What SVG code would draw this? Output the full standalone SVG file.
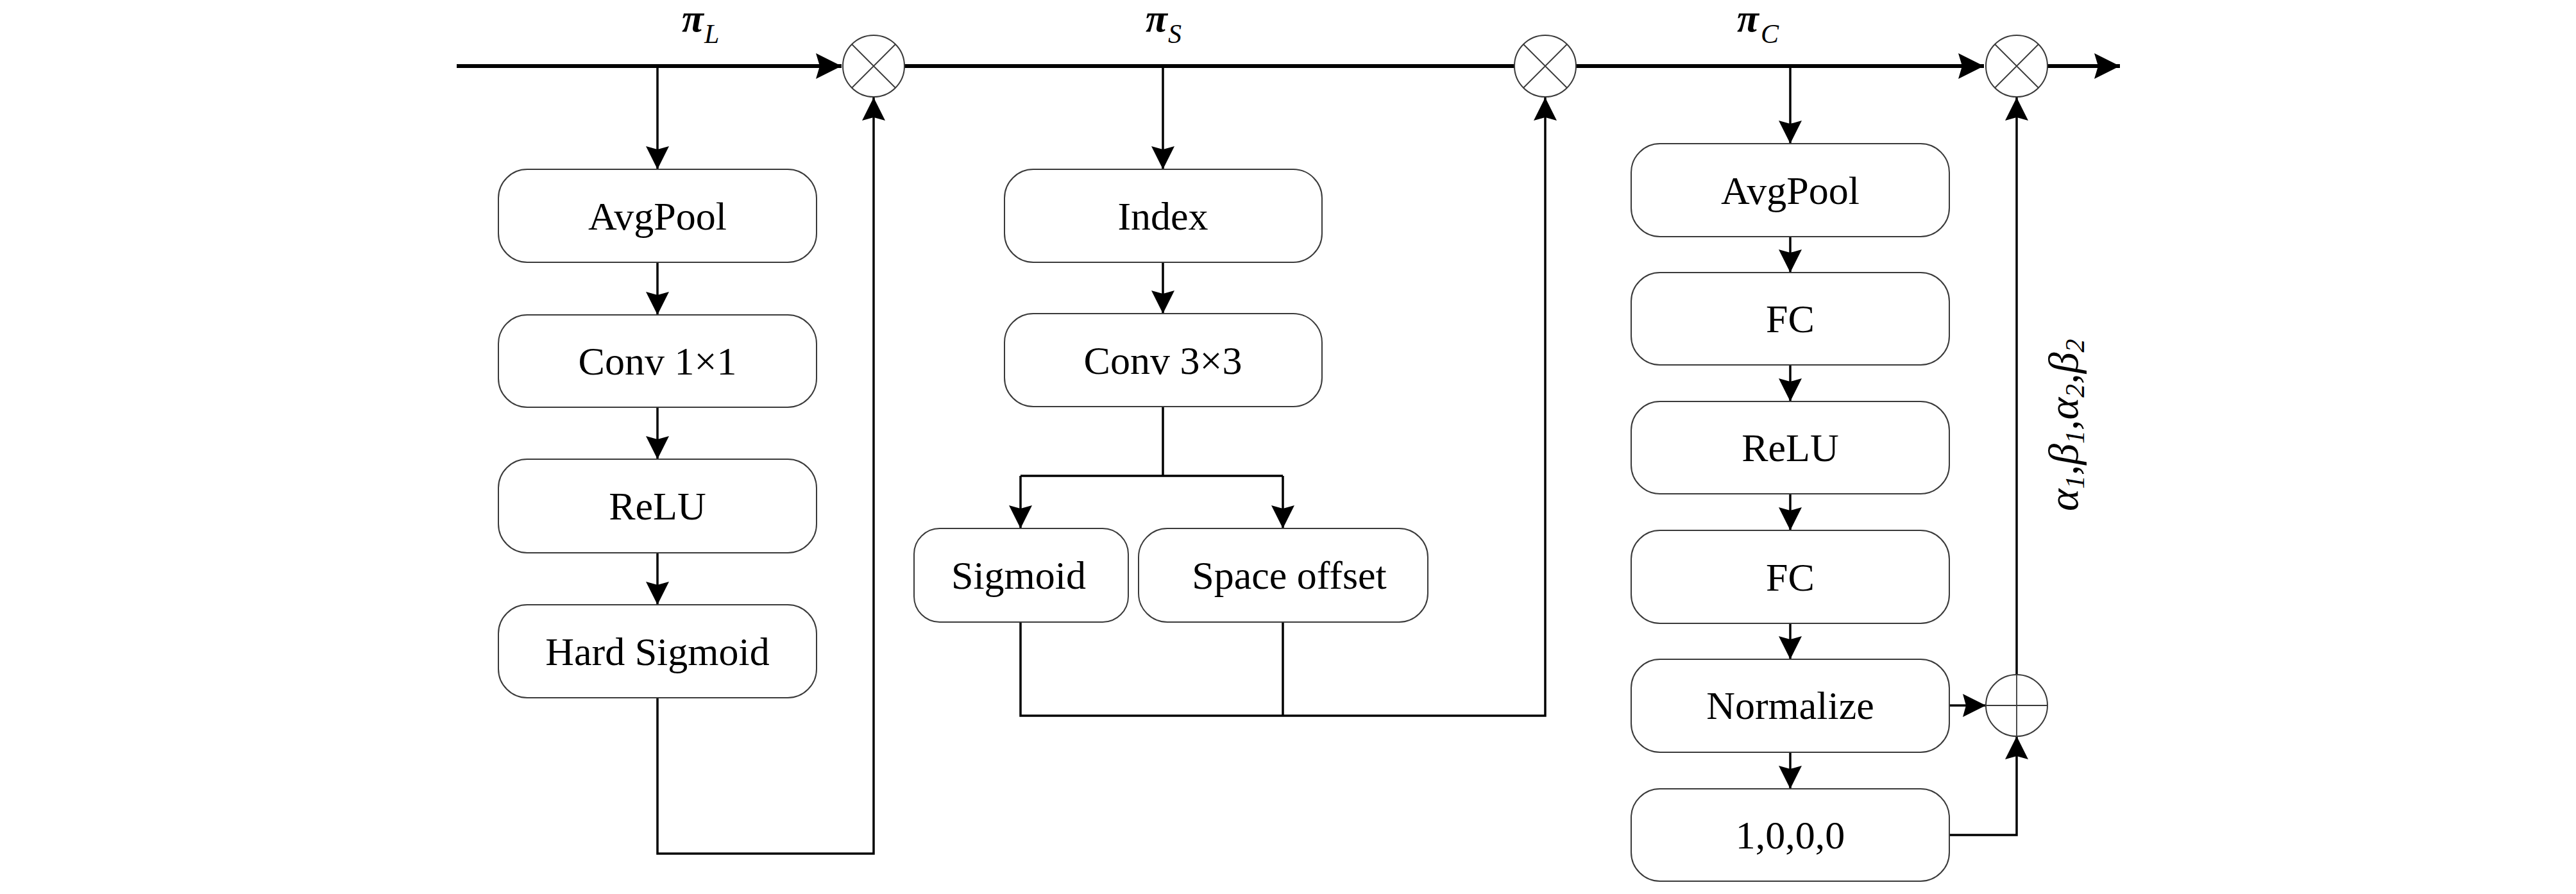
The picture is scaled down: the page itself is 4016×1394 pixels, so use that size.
<svg xmlns="http://www.w3.org/2000/svg" width="4016" height="1394" viewBox="0 0 4016 1394">
<style>
.box{fill:#fff;stroke:#3a3a3a;stroke-width:2}
.lbl{font-family:"Liberation Serif","Times New Roman",serif;font-size:62px;fill:#000;text-anchor:middle}
.gr{font-family:"Liberation Serif","Times New Roman",serif;font-style:italic;fill:#000}
.op{fill:#fff;stroke:#3a3a3a;stroke-width:2}
.opl{stroke:#3a3a3a;stroke-width:1.8;fill:none}
.c{fill:none;stroke:#000;stroke-width:3.5}
.m{fill:none;stroke:#000;stroke-width:6}
</style>
<defs>
<marker id="ah" markerUnits="userSpaceOnUse" markerWidth="36" markerHeight="36" viewBox="0 0 36 36" refX="36" refY="18" orient="auto"><path d="M0,0 L36,18 L0,36 L5,18 z" fill="#000"/></marker>
<marker id="ahB" markerUnits="userSpaceOnUse" markerWidth="40" markerHeight="40" viewBox="0 0 40 40" refX="40" refY="20" orient="auto"><path d="M0,0 L40,20 L0,40 L6,20 z" fill="#000"/></marker>
</defs>
<rect width="4016" height="1394" fill="#fff"/>

<g id="connectors">
<path class="m" d="M712,103 H1312" marker-end="url(#ahB)"/>
<path class="m" d="M1410,103 H2361"/>
<path class="m" d="M2457,103 H3093" marker-end="url(#ahB)"/>
<path class="m" d="M3192,103 H3305" marker-end="url(#ahB)"/>

<path class="c" d="M1025,103 V264" marker-end="url(#ah)"/>
<path class="c" d="M1025,409 V491" marker-end="url(#ah)"/>
<path class="c" d="M1025,635 V716" marker-end="url(#ah)"/>
<path class="c" d="M1025,862 V943" marker-end="url(#ah)"/>
<path class="c" d="M1025,1088 V1331 H1362 V152" marker-end="url(#ah)"/>

<path class="c" d="M1813,103 V264" marker-end="url(#ah)"/>
<path class="c" d="M1813,409 V489" marker-end="url(#ah)"/>
<path class="c" d="M1813,634 V742"/>
<path class="c" d="M1591,742 H2000"/>
<path class="c" d="M1591,742 V824" marker-end="url(#ah)"/>
<path class="c" d="M2000,742 V824" marker-end="url(#ah)"/>
<path class="c" d="M1591,970 V1116 H2409 V152" marker-end="url(#ah)"/>
<path class="c" d="M2000,970 V1116"/>

<path class="c" d="M2791,103 V224" marker-end="url(#ah)"/>
<path class="c" d="M2791,369 V425" marker-end="url(#ah)"/>
<path class="c" d="M2791,569 V626" marker-end="url(#ah)"/>
<path class="c" d="M2791,770 V827" marker-end="url(#ah)"/>
<path class="c" d="M2791,972 V1028" marker-end="url(#ah)"/>
<path class="c" d="M2791,1173 V1230" marker-end="url(#ah)"/>
<path class="c" d="M3039,1100 H3096" marker-end="url(#ah)"/>
<path class="c" d="M3039,1302 H3144 V1148" marker-end="url(#ah)"/>
<path class="c" d="M3144,1052 V152" marker-end="url(#ah)"/>
</g>

<g id="mul1"><circle class="op" cx="1362" cy="103" r="48"/><path class="opl" d="M1328,69 L1396,137 M1396,69 L1328,137"/></g>
<g id="mul2"><circle class="op" cx="2409" cy="103" r="48"/><path class="opl" d="M2375,69 L2443,137 M2443,69 L2375,137"/></g>
<g id="mul3"><circle class="op" cx="3144" cy="103" r="48"/><path class="opl" d="M3110,69 L3178,137 M3178,69 L3110,137"/></g>
<g id="add1"><circle class="op" cx="3144" cy="1100" r="48"/><path class="opl" d="M3096,1100 H3192 M3144,1052 V1148"/></g>

<g id="piL"><text class="gr" x="1063" y="49" font-size="62" font-weight="bold">π</text><text class="gr" x="1098" y="67" font-size="42">L</text></g>
<g id="piS"><text class="gr" x="1786" y="49" font-size="62" font-weight="bold">π</text><text class="gr" x="1821" y="67" font-size="42">S</text></g>
<g id="piC"><text class="gr" x="2708" y="49" font-size="62" font-weight="bold">π</text><text class="gr" x="2745" y="67" font-size="42">C</text></g>

<g id="n-avgpool1"><rect class="box" x="777" y="264" width="496" height="145" rx="45"/><text class="lbl" x="1025" y="358">AvgPool</text></g>
<g id="n-conv11"><rect class="box" x="777" y="491" width="496" height="144" rx="45"/><text class="lbl" x="1025" y="584">Conv 1×1</text></g>
<g id="n-relu1"><rect class="box" x="777" y="716" width="496" height="146" rx="45"/><text class="lbl" x="1025" y="810">ReLU</text></g>
<g id="n-hardsig"><rect class="box" x="777" y="943" width="496" height="145" rx="45"/><text class="lbl" x="1025" y="1037">Hard Sigmoid</text></g>

<g id="n-index"><rect class="box" x="1566" y="264" width="495" height="145" rx="45"/><text class="lbl" x="1813" y="358">Index</text></g>
<g id="n-conv33"><rect class="box" x="1566" y="489" width="495" height="145" rx="45"/><text class="lbl" x="1813" y="583">Conv 3×3</text></g>
<g id="n-sigmoid"><rect class="box" x="1425" y="824" width="334" height="146" rx="40"/><text class="lbl" x="1588" y="918">Sigmoid</text></g>
<g id="n-space"><rect class="box" x="1775" y="824" width="451" height="146" rx="45"/><text class="lbl" x="2010" y="918">Space offset</text></g>

<g id="n-avgpool2"><rect class="box" x="2543" y="224" width="496" height="145" rx="45"/><text class="lbl" x="2791" y="318">AvgPool</text></g>
<g id="n-fc1"><rect class="box" x="2543" y="425" width="496" height="144" rx="45"/><text class="lbl" x="2791" y="518">FC</text></g>
<g id="n-relu2"><rect class="box" x="2543" y="626" width="496" height="144" rx="45"/><text class="lbl" x="2791" y="719">ReLU</text></g>
<g id="n-fc2"><rect class="box" x="2543" y="827" width="496" height="145" rx="45"/><text class="lbl" x="2791" y="921">FC</text></g>
<g id="n-normalize"><rect class="box" x="2543" y="1028" width="496" height="145" rx="45"/><text class="lbl" x="2791" y="1121">Normalize</text></g>
<g id="n-1000"><rect class="box" x="2543" y="1230" width="496" height="144" rx="45"/><text class="lbl" x="2791" y="1323">1,0,0,0</text></g>

<g id="lbl-ab"><text class="gr" font-size="66" transform="translate(3239,797) rotate(-90)">α<tspan font-size="42" dy="10">1</tspan><tspan dy="-10">,β</tspan><tspan font-size="42" dy="10">1</tspan><tspan dy="-10">,α</tspan><tspan font-size="42" dy="10">2</tspan><tspan dy="-10">,β</tspan><tspan font-size="42" dy="10">2</tspan></text></g>
</svg>
